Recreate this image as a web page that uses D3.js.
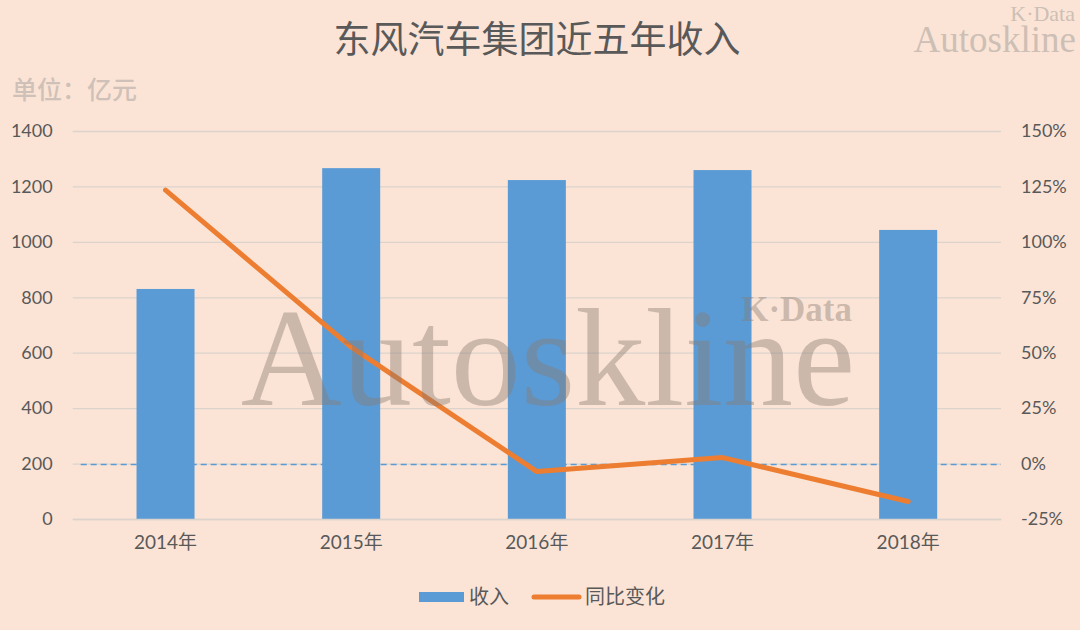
<!DOCTYPE html>
<html><head><meta charset="utf-8">
<script src="https://cdn.jsdelivr.net/npm/d3@7"></script>
<style>
html,body{margin:0;padding:0;background:#FBE4D6;}
svg{display:block;}
</style></head>
<body>
<svg id="c" width="1080" height="630"></svg>
<script>
const categories = ["2014年","2015年","2016年","2017年","2018年"];
const revenue = [830, 1266, 1223, 1259, 1043];
const yoyChange = [1.233, 0.525, -0.036, 0.027, -0.171];
const leftTicks = [0,200,400,600,800,1000,1200,1400];
const rightTicks = [-0.25,0,0.25,0.5,0.75,1.0,1.25,1.5];
const seriesNames = ["收入","同比变化"];
const titleText = "东风汽车集团近五年收入";
const unitText = "单位：亿元";

(function(){
const svg = d3.select("#c");
const W = 1080, H = 630;
const sans = "Lato, 'Open Sans', 'Noto Sans CJK SC', sans-serif";
const serif = "'Liberation Serif', 'DejaVu Serif', 'Noto Sans CJK SC', serif";

svg.append("rect").attr("width", W).attr("height", H).attr("fill", "#FBE4D6");

const pL = 72.7, pR = 1001, pT = 131, pB = 519;
const x = d3.scaleBand().domain(categories).range([pL, pR]).paddingInner(0.6875).paddingOuter(0.34375);
const yL = d3.scaleLinear().domain([0, 1400]).range([pB, pT]);
const yR = d3.scaleLinear().domain([-0.25, 1.5]).range([pB, pT]);

const gAxL = svg.append("g").attr("transform", `translate(${pL},0)`)
  .call(d3.axisLeft(yL).tickValues(leftTicks).tickSize(-(pR-pL)).tickPadding(20).tickFormat(d3.format("d")));
gAxL.select(".domain").remove();
gAxL.selectAll(".tick line").attr("stroke", "#DCD3CD").attr("stroke-width", 1.3);
gAxL.selectAll(".tick text").attr("fill", "#595959").style("font-family", sans).style("font-size", "18px");

const pctFmt = v => Math.round(v * 100) + "%";
const gAxR = svg.append("g").attr("transform", `translate(${pR},0)`)
  .call(d3.axisRight(yR).tickValues(rightTicks).tickSize(0).tickPadding(20).tickFormat(pctFmt));
gAxR.select(".domain").remove();
gAxR.selectAll(".tick text").attr("fill", "#595959").style("font-family", sans).style("font-size", "18px");

svg.append("line").attr("x1", pL + 8).attr("x2", pR).attr("y1", Math.round(yR(0)) + 0.5).attr("y2", Math.round(yR(0)) + 0.5)
  .attr("stroke", "#5B9BD5").attr("stroke-width", 1.6).attr("stroke-dasharray", "6,4");

svg.append("g").selectAll("rect").data(revenue).join("rect")
  .attr("x", (d,i) => x(categories[i]))
  .attr("width", x.bandwidth())
  .attr("y", d => yL(d))
  .attr("height", d => yL(0) - yL(d))
  .attr("fill", "#5B9BD5");

const gX = svg.append("g").attr("transform", `translate(0,${pB})`)
  .call(d3.axisBottom(x).tickSize(0).tickPadding(17));
gX.select(".domain").attr("stroke", "#DCD3CD").attr("stroke-width", 1.3);
gX.selectAll(".tick text").attr("fill", "#595959").style("font-family", sans).style("font-size", "19px");

const line = d3.line().x((d,i) => x(categories[i]) + x.bandwidth()/2).y(d => yR(d));
svg.append("path").datum(yoyChange).attr("d", line)
  .attr("fill", "none").attr("stroke", "#ED7D31").attr("stroke-width", 5)
  .attr("stroke-linecap", "round").attr("stroke-linejoin", "round");

svg.append("text").attr("x", 548).attr("y", 405).attr("text-anchor", "middle")
  .style("font-family", serif).style("font-size", "140px")
  .attr("fill", "#8a7a70").attr("fill-opacity", 0.42).text("Autoskline");
svg.append("text").attr("x", 852).attr("y", 321).attr("text-anchor", "end")
  .style("font-family", serif).style("font-size", "35px").style("font-weight", "bold")
  .attr("fill", "#8a7a70").attr("fill-opacity", 0.42).text("K·Data");

svg.append("text").attr("x", 1075).attr("y", 21).attr("text-anchor", "end")
  .style("font-family", serif).style("font-size", "22px")
  .attr("fill", "#CDBFB5").text("K·Data");
svg.append("text").attr("x", 1076).attr("y", 52).attr("text-anchor", "end")
  .style("font-family", serif).style("font-size", "37px")
  .attr("fill", "#CDBFB5").text("Autoskline");

svg.append("text").attr("x", 537).attr("y", 53).attr("text-anchor", "middle")
  .style("font-family", serif).style("font-size", "37px")
  .attr("fill", "#595959").text(titleText);

svg.append("text").attr("x", 12).attr("y", 99)
  .style("font-family", sans).style("font-size", "25px").style("font-weight", "500")
  .attr("fill", "#CFC1B7").text(unitText);

const lg = svg.append("g");
lg.append("rect").attr("x", 419).attr("y", 592).attr("width", 45).attr("height", 10).attr("fill", "#5B9BD5");
lg.append("text").attr("x", 469).attr("y", 604).style("font-family", sans).style("font-size", "20px")
  .attr("fill", "#595959").text(seriesNames[0]);
lg.append("line").attr("x1", 534).attr("x2", 579).attr("y1", 597).attr("y2", 597)
  .attr("stroke", "#ED7D31").attr("stroke-width", 5).attr("stroke-linecap", "round");
lg.append("text").attr("x", 585).attr("y", 604).style("font-family", sans).style("font-size", "20px")
  .attr("fill", "#595959").text(seriesNames[1]);
})();
</script>
</body></html>
